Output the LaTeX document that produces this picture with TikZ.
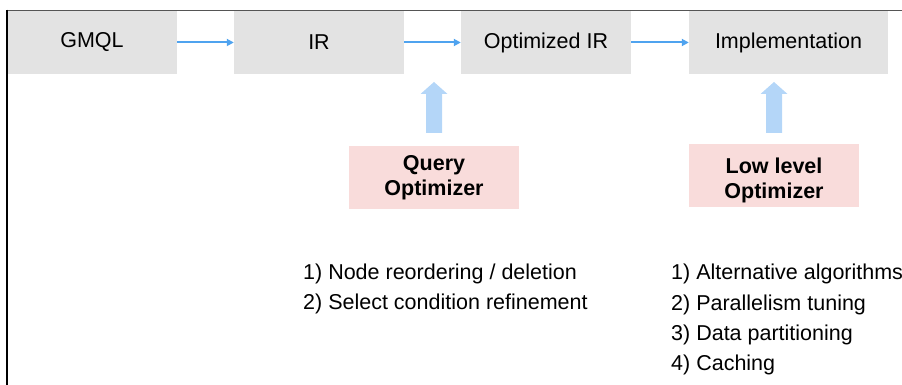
\documentclass[tikz,border=0pt]{standalone}
\usepackage{fontspec}
\setmainfont{Liberation Sans}
\usepackage{xcolor}
\usetikzlibrary{arrows.meta}
\definecolor{boxgray}{RGB}{227,227,227}
\definecolor{flowblue}{RGB}{79,163,239}
\definecolor{liftblue}{RGB}{180,214,248}
\definecolor{optpink}{RGB}{249,220,219}
\definecolor{framegray}{RGB}{85,85,85}

\begin{document}
\begin{tikzpicture}[x=1pt,y=1pt,
  stage/.style={fill=boxgray,minimum height=63pt,inner sep=0pt,font=\fontsize{21.5}{25}\selectfont},
  optbox/.style={fill=optpink,minimum width=170pt,minimum height=63pt,inner sep=0pt,align=center,font=\fontsize{21.5}{25}\selectfont\bfseries},
  flow/.style={flowblue,line width=2pt,-{Triangle[length=7pt,width=7pt]}},
  listitem/.style={anchor=base west,inner sep=0pt,font=\fontsize{21.5}{25}\selectfont},
  lift/.pic={\fill[liftblue] (-8,0) -- (-8,39) -- (-13.5,39) -- (0,51) -- (13.5,39) -- (8,39) -- (8,0) -- cycle;}]
\useasboundingbox (0,0) rectangle (902,385);
% pipeline
\node[stage,minimum width=170pt] (gmql) at (92,342.5) {GMQL};
\node[stage,minimum width=170pt] (ir) at (319,342.5) {IR};
\node[stage,minimum width=170pt] (optir) at (546,342.5) {Optimized IR};
\node[stage,minimum width=199pt] (impl) at (788.5,342.5) {Implementation};
\draw [flow] (gmql) -- (ir);
\draw [flow] (ir) -- (optir);
\draw [flow] (optir) -- (impl);
% optimizers
\node[optbox] (qopt) at (434,207.5) {Query\\Optimizer};
\node[optbox,text height=50pt] (lopt) at (774,209.5) {Low level\\Optimizer};
\pic at (qopt.north |- 0,252) {lift};
\pic at (lopt.north |- 0,252) {lift};
% what they do
\node[listitem] (q1) at (303,105.5) {1) Node reordering / deletion};
\node[listitem] (q2) at (303,75) {2) Select condition refinement};
\node[listitem] (l1) at (671,105) {1) Alternative algorithms};
\node[listitem] (l2) at (671,74.7) {2) Parallelism tuning};
\node[listitem] (l3) at (671,44.3) {3) Data partitioning};
\node[listitem] (l4) at (671,14) {4) Caching};
% frame
\draw [framegray, line width=1.5pt] (6.5,374.5) -- (902,374.5);
\draw [black, line width=2pt] (6.5,375.25) -- (6.5,0);
\end{tikzpicture}
\end{document}
